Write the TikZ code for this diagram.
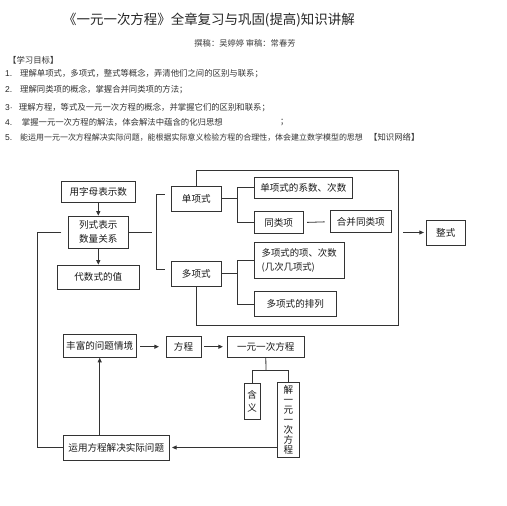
\documentclass[tikz,border=0pt]{standalone}
\usepackage{fontspec}
\setmainfont{Noto Sans CJK SC}
\newfontfamily\latinfont{Liberation Sans}
\usetikzlibrary{arrows.meta}
\newcommand\diagfont{\fontsize{9.6}{11.5}\selectfont}
\newcommand\headfont{\fontsize{8.4}{10}\selectfont}
\tikzset{
  box/.style={draw=black!80, line width=0.8bp, inner sep=0pt, font=\diagfont, text=black!90},
  ln/.style={draw=black!80, line width=0.8bp},
  arr/.style={ln, -{Triangle[length=4.5bp,width=4bp]}},
  hd/.style={anchor=west, inner sep=0pt, font=\headfont, text=black!80},
  num/.style={anchor=west, inner sep=0pt, font=\latinfont\fontsize{8.5}{10}\selectfont, text=black!85},
}
\begin{document}
\begin{tikzpicture}[x=1bp, y=-1bp]
\fill[white] (0,0) rectangle (506,506);
\useasboundingbox (0,0) rectangle (506,506);

% ---------- header ----------
\node[inner sep=0pt, font=\fontsize{13.5}{15}\selectfont, text=black!85] (title) at (209,20.5) {《一元一次方程》全章复习与巩固(提高)知识讲解};
\node[inner sep=0pt, font=\fontsize{8.3}{10}\selectfont, text=black!75] (author) at (245,43.3) {撰稿：吴婷婷 审稿：常春芳};
\node[hd] (goal) at (8,60.7) {【学习目标】};
\node[num] (n1) at (5,74) {1.};
\node[hd] (t1) at (20,74) {理解单项式，多项式，整式等概念，弄清他们之间的区别与联系；};
\node[num] (n2) at (5,90) {2.};
\node[hd] (t2) at (20,90) {理解同类项的概念，掌握合并同类项的方法；};
\node[num] (n3) at (5,107.3) {3·};
\node[hd] (t3) at (18.7,107.3) {理解方程，等式及一元一次方程的概念，并掌握它们的区别和联系；};
\node[num] (n4) at (5,122.3) {4.};
\node[hd] (t4) at (21.7,122.3) {掌握一元一次方程的解法，体会解法中蕴含的化归思想};
\node[hd] (t4b) at (280,122.3) {；};
\node[num] (n5) at (5,137.7) {5.};
\node[hd, font=\fontsize{8}{10}\selectfont] (t5) at (20,137.7) {能运用一元一次方程解决实际问题，能根据实际意义检验方程的合理性，体会建立数学模型的思想};
\node[hd] (t5b) at (369,137.7) {【知识网络】};

% ---------- upper diagram ----------
\node[box, minimum width=73.3bp, minimum height=21.7bp] (ymzb) at (98.3,191.8) {用字母表示数};
\node[box, minimum width=60bp, minimum height=32.3bp, align=center, font=\fontsize{9.6}{14.3}\selectfont] (lsbs) at (98.3,232.2) {列式表示\\数量关系};
\node[box, minimum width=82.3bp, minimum height=24.3bp] (dsz) at (98.3,277.2) {代数式的值};
\draw[arr] (ymzb.south) -- (lsbs.north);
\draw[arr] (lsbs.south) -- (dsz.north);

\node[box, minimum width=49.3bp, minimum height=24.3bp] (dxs) at (196.3,198.8) {单项式};
\node[box, minimum width=49.3bp, minimum height=25bp] (dxs2) at (196.3,273.5) {多项式};

\node[box, minimum width=98.7bp, minimum height=21bp] (xsc) at (303.3,187.8) {单项式的系数、次数};
\node[box, minimum width=49.3bp, minimum height=21.6bp] (tlx) at (278.7,222.5) {同类项};
\node[box, minimum width=61.7bp, minimum height=22bp] (hb) at (360.8,221.7) {合并同类项};
\node[box, minimum width=90.3bp, minimum height=35.6bp, align=left, font=\fontsize{9.4}{14}\selectfont] (dxc) at (299.2,260.5) {多项式的项、次数\\(几次几项式)};
\node[box, minimum width=82.7bp, minimum height=25bp] (dpl) at (295.3,304.2) {多项式的排列};
\node[box, minimum width=38.3bp, minimum height=25bp] (zs) at (445.8,232.5) {整式};

% bracket from 列式表示
\coordinate (lsr) at (151.7,232.2);
\coordinate (brk) at (156,0);
\draw[ln] (lsbs.east) -- (lsr);
\coordinate (b1) at ([xshift=-6.7bp,yshift=4bp]dxs.west);
\coordinate (b2) at ([xshift=-6.7bp,yshift=4bp]dxs2.west);
\draw[ln] (b1) -- (brk |- b1) -- (brk |- b2) -- (b2);

% branches
\coordinate (v1) at (237.7,0);
\draw[ln] (dxs.east) -- (v1 |- dxs.east);
\draw[ln] (xsc.west) -| (v1 |- tlx.west) -- (tlx.west);
\draw[ln] (dxs2.east) -- (v1 |- dxs2.east);
\draw[ln] (dxc.west) -| (v1 |- dpl.west) -- (dpl.west);
\draw[ln, shorten <=3.4bp, shorten >=5bp] (tlx.east) -- (hb.west);

% big frame
\coordinate (fr) at (398.3,170);
\coordinate (fb) at (398.3,325);
\draw[ln] (dxs.north) |- (fr) -- (fb) -| (dxs2.south);
\coordinate (zsa) at (403.3,232.5);
\draw[arr, shorten >=2.4bp] (zsa) -- (zs.west);

% ---------- lower diagram ----------
\node[box, minimum width=72.7bp, minimum height=23.3bp] (fwqj) at (99.7,345.7) {丰富的问题情境};
\node[box, minimum width=35bp, minimum height=21.3bp] (fc) at (183.5,346.7) {方程};
\node[box, minimum width=76.3bp, minimum height=21.3bp] (yy) at (265.8,346.7) {一元一次方程};
\draw[arr, shorten <=4bp, shorten >=6.7bp] (fwqj.east |- fc.west) -- (fc.west);
\draw[arr, shorten <=3bp, shorten >=4.4bp] (fc.east) -- (yy.west);

\node[box, minimum width=15.7bp, minimum height=36bp, align=center] (hy) at (252.2,401.3) {含\\[2bp]义};
\node[box, minimum width=22bp, minimum height=74.6bp, align=center, font=\fontsize{9.6}{10}\selectfont] (jf) at (288.3,420) {解\\一\\元\\一\\次\\方\\程};
\coordinate (tj) at (266,370.7);
\draw[ln] (yy.south) -- (tj);
\draw[ln] (hy.north) |- (tj) -| (jf.north);

\node[box, minimum width=106bp, minimum height=25bp] (yyfc) at (116.3,447.5) {运用方程解决实际问题};
\draw[arr, shorten >=2.4bp] (jf.west |- yyfc.east) -- (yyfc.east);
\draw[arr] (fwqj.south |- yyfc.north) -- (fwqj.south);

% left loop line
\coordinate (L) at (37.3,0);
\draw[ln] ([xshift=-6.6bp]lsbs.west) -| (L |- yyfc.west) -- (yyfc.west);
\end{tikzpicture}
\end{document}
